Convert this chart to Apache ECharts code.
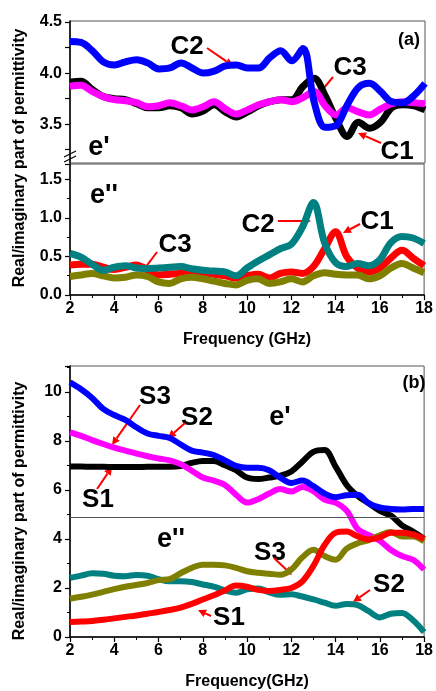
<!DOCTYPE html>
<html>
<head>
<meta charset="utf-8">
<script src="https://cdn.jsdelivr.net/npm/echarts@6/dist/echarts.min.js"></script>
<style>
  html, body { margin: 0; padding: 0; background: #fff; }
  #chart { width: 436px; height: 691px; }
</style>
</head>
<body>
<div id="chart"></div>
<script>
"use strict";

// --- data ---
const freq = [2, 2.5, 3, 3.5, 4, 4.5, 5, 5.5, 6, 6.5, 7, 7.5, 8, 8.5, 9, 9.5, 10,
  10.5, 11, 11.5, 12, 12.5, 13, 13.5, 14, 14.5, 15, 15.5, 16, 16.5, 17, 17.5, 18];

// panel (a), real part
const c1Real = [3.91, 3.92, 3.84, 3.77, 3.75, 3.74, 3.70, 3.66, 3.66, 3.68, 3.66, 3.60, 3.63, 3.69, 3.62, 3.57, 3.62,
  3.68, 3.72, 3.74, 3.74, 3.87, 3.95, 3.78, 3.55, 3.38, 3.52, 3.46, 3.52, 3.66, 3.69, 3.68, 3.64];
const c2Real = [4.31, 4.30, 4.22, 4.11, 4.08, 4.11, 4.13, 4.10, 4.04, 4.05, 4.10, 4.05, 4.00, 4.02, 4.07, 4.08, 4.05,
  4.05, 4.15, 4.22, 4.12, 4.24, 3.72, 3.47, 3.49, 3.69, 3.86, 3.90, 3.82, 3.72, 3.71, 3.78, 3.90];
const c3Real = [3.87, 3.88, 3.82, 3.77, 3.74, 3.73, 3.71, 3.67, 3.68, 3.71, 3.68, 3.64, 3.67, 3.72, 3.65, 3.60, 3.64,
  3.69, 3.72, 3.74, 3.72, 3.76, 3.82, 3.68, 3.59, 3.66, 3.62, 3.59, 3.65, 3.70, 3.72, 3.71, 3.70];

// panel (a), imaginary part
const c1Imag = [0.39, 0.40, 0.40, 0.36, 0.33, 0.36, 0.39, 0.32, 0.26, 0.27, 0.28, 0.29, 0.28, 0.27, 0.25, 0.22, 0.25,
  0.27, 0.22, 0.28, 0.30, 0.28, 0.37, 0.60, 0.82, 0.50, 0.35, 0.30, 0.35, 0.48, 0.58, 0.48, 0.38];
const c2Imag = [0.54, 0.49, 0.40, 0.32, 0.36, 0.38, 0.35, 0.34, 0.35, 0.36, 0.37, 0.34, 0.32, 0.31, 0.30, 0.25, 0.35,
  0.44, 0.52, 0.60, 0.66, 0.88, 1.20, 0.68, 0.42, 0.37, 0.41, 0.38, 0.46, 0.68, 0.76, 0.74, 0.67];
const c3Imag = [0.24, 0.26, 0.28, 0.25, 0.22, 0.23, 0.26, 0.24, 0.17, 0.15, 0.21, 0.23, 0.21, 0.18, 0.15, 0.13, 0.19,
  0.21, 0.15, 0.17, 0.21, 0.17, 0.25, 0.29, 0.27, 0.26, 0.26, 0.21, 0.25, 0.35, 0.41, 0.35, 0.29];

// panel (b), real part
const s1Real = [6.95, 6.95, 6.94, 6.94, 6.93, 6.93, 6.93, 6.94, 6.94, 6.94, 6.97, 7.10, 7.18, 7.18, 7.00, 6.80, 6.50,
  6.44, 6.50, 6.58, 6.75, 7.15, 7.55, 7.62, 6.95, 6.20, 5.75, 5.45, 5.14, 4.95, 4.55, 4.30, 4.00];
const s2Real = [10.38, 10.10, 9.75, 9.30, 9.05, 8.85, 8.55, 8.30, 8.20, 8.12, 7.85, 7.60, 7.52, 7.42, 7.20, 6.98, 6.90,
  6.90, 6.80, 6.50, 6.28, 6.38, 6.15, 5.85, 5.70, 5.78, 5.80, 5.45, 5.28, 5.22, 5.20, 5.22, 5.22];
const s3Real = [8.34, 8.20, 8.03, 7.87, 7.72, 7.60, 7.48, 7.37, 7.28, 7.20, 7.05, 6.78, 6.50, 6.38, 6.20, 5.80, 5.48,
  5.62, 5.85, 6.03, 5.93, 6.12, 5.95, 5.60, 5.48, 5.15, 4.40, 4.15, 3.92, 3.55, 3.30, 3.15, 2.75];

// panel (b), imaginary part
const s1Imag = [0.61, 0.63, 0.65, 0.70, 0.76, 0.82, 0.88, 0.95, 1.02, 1.10, 1.20, 1.35, 1.53, 1.70, 1.90, 2.10, 2.05,
  1.92, 1.88, 1.92, 2.00, 2.27, 2.90, 3.75, 4.25, 4.30, 4.10, 3.98, 4.06, 4.25, 4.25, 4.18, 4.00];
const s2Imag = [2.41, 2.50, 2.60, 2.58, 2.50, 2.48, 2.53, 2.50, 2.36, 2.27, 2.27, 2.24, 2.14, 2.05, 1.90, 1.80, 1.94,
  1.98, 1.82, 1.72, 1.74, 1.65, 1.53, 1.40, 1.27, 1.35, 1.30, 1.05, 0.80, 0.95, 0.98, 0.68, 0.20];
const s3Imag = [1.56, 1.64, 1.73, 1.84, 1.95, 2.05, 2.12, 2.20, 2.32, 2.36, 2.60, 2.82, 2.95, 2.95, 2.92, 2.82, 2.68,
  2.62, 2.58, 2.54, 2.75, 3.25, 3.56, 3.30, 3.15, 3.60, 3.82, 3.95, 4.15, 4.28, 4.10, 4.10, 3.90];

const upperTicks = [3.25, 3.5, 3.75, 4.0, 4.25, 4.5];
const upperLabels = [3.5, 4.0, 4.5];
const dividerB = 4.9;

// --- styling helpers ---
const FONT = "Arial, 'Liberation Sans', sans-serif";
const RED = "#ff0000";

const chart = echarts.init(document.getElementById("chart"), null, { renderer: "canvas" });

const pair = (ys) => freq.map((f, i) => [f, ys[i]]);

const line = (name, ys, color, xi, yi, width) => ({
  name,
  type: "line",
  xAxisIndex: xi,
  yAxisIndex: yi,
  data: pair(ys),
  showSymbol: false,
  smooth: 0.35,
  lineStyle: { color, width },
  silent: true,
  animation: false,
});

const xBase = (gi) => ({
  type: "value",
  gridIndex: gi,
  min: 2,
  max: 18,
  interval: 2,
  axisLine: { show: true, lineStyle: { color: "#000", width: 1.5 } },
  axisTick: { show: true, inside: false, length: 5, lineStyle: { color: "#000", width: 1.2 } },
  minorTick: { show: true, splitNumber: 2, length: 3, lineStyle: { color: "#000" } },
  splitLine: { show: false },
  axisLabel: { show: true, color: "#000", fontFamily: FONT, fontWeight: "bold", fontSize: 16, margin: 6 },
  nameLocation: "middle",
  nameGap: 30,
  nameTextStyle: { color: "#000", fontFamily: FONT, fontWeight: "bold", fontSize: 16 },
});

const yLabelStyle = { color: "#000", fontFamily: FONT, fontWeight: "bold", fontSize: 16, margin: 8, showMaxLabel: false };
const yLine = { show: true, lineStyle: { color: "#000", width: 1.5 } };
const yTick = { show: true, inside: false, length: 5, lineStyle: { color: "#000", width: 1.2 } };

const grids = [
  { left: 70, right: 11, top: 21, height: 142, show: true, borderColor: "#555", borderWidth: 1 },
  { left: 70, right: 11, top: 164, height: 131, show: true, borderColor: "#555", borderWidth: 1 },
  { left: 70, right: 11, top: 366, height: 272, show: true, borderColor: "#555", borderWidth: 1 },
];

const xAxes = [
  Object.assign(xBase(0), {
    axisLine: { show: false }, axisTick: { show: false }, minorTick: { show: false }, axisLabel: { show: false },
  }),
  Object.assign(xBase(1), { name: "Frequency (GHz)", nameGap: 37 }),
  Object.assign(xBase(2), { name: "Frequency(GHz)", nameGap: 37 }),
];

const yAxes = [
  {
    type: "value", gridIndex: 0, min: 3.12, max: 4.51,
    axisLine: yLine,
    axisTick: Object.assign({ customValues: upperTicks }, yTick),
    axisLabel: Object.assign({ customValues: upperLabels, formatter: (v) => v.toFixed(1) }, yLabelStyle, { showMaxLabel: true }),
    splitLine: { show: false },
  },
  {
    type: "value", gridIndex: 1, min: 0, max: 1.7, interval: 0.5,
    axisLine: yLine, axisTick: yTick,
    minorTick: { show: true, splitNumber: 2, length: 3, lineStyle: { color: "#000" } },
    axisLabel: Object.assign({ formatter: (v) => v.toFixed(1) }, yLabelStyle),
    splitLine: { show: false },
  },
  {
    type: "value", gridIndex: 2, min: 0, max: 11.05, interval: 2,
    axisLine: yLine, axisTick: yTick,
    minorTick: { show: true, splitNumber: 2, length: 3, lineStyle: { color: "#000" } },
    axisLabel: yLabelStyle,
    splitLine: { show: false },
  },
];

const series = [
  line("C1", c1Real, "#000000", 0, 0, 7),
  line("C3", c3Real, "#ff00ff", 0, 0, 7),
  line("C2", c2Real, "#0000ff", 0, 0, 7),
  line("C1''", c1Imag, "#ff0000", 1, 1, 7),
  line("C3''", c3Imag, "#808000", 1, 1, 7),
  line("C2''", c2Imag, "#008080", 1, 1, 7),
  Object.assign(line("S1", s1Real, "#000000", 2, 2, 6), {
    markLine: {
      silent: true, symbol: "none", label: { show: false },
      lineStyle: { color: "#555", width: 1, type: "solid" },
      data: [{ yAxis: dividerB }],
      animation: false,
    },
  }),
  line("S3", s3Real, "#ff00ff", 2, 2, 6),
  line("S2", s2Real, "#0000ff", 2, 2, 6),
  line("S2''", s2Imag, "#008080", 2, 2, 6),
  line("S3''", s3Imag, "#808000", 2, 2, 6),
  line("S1''", s1Imag, "#ff0000", 2, 2, 6),
];

// --- annotations (screen positions) ---
const labels = [
  { text: "C2", x: 187, y: 47, from: [207, 48], to: [233, 66] },
  { text: "C3", x: 350, y: 68, from: [333, 77], to: [313, 101] },
  { text: "C1", x: 397, y: 152, from: [381, 143], to: [358, 133] },
  { text: "C2", x: 258, y: 225, from: [278, 221], to: [311, 221] },
  { text: "C1", x: 377, y: 222, from: [360, 224], to: [343, 233] },
  { text: "C3", x: 175, y: 245, from: [157, 252], to: [142, 272] },
  { text: "S3", x: 155, y: 397, from: [140, 405], to: [112, 445] },
  { text: "S2", x: 197, y: 418, from: [185, 423], to: [168, 438] },
  { text: "S1", x: 98, y: 500, from: [97, 489], to: [112, 467] },
  { text: "S3", x: 270, y: 553, from: [274, 558], to: [292, 575] },
  { text: "S2", x: 389, y: 585, from: [370, 590], to: [353, 602] },
  { text: "S1", x: 229, y: 618, from: [211, 616], to: [198, 610] },
];
const tags = [
  { text: "(a)", x: 409, y: 40, size: 18 },
  { text: "(b)", x: 414, y: 383, size: 18 },
  { text: "e'", x: 99, y: 148, size: 27 },
  { text: "e''", x: 104, y: 196, size: 27 },
  { text: "e'", x: 280, y: 418, size: 27 },
  { text: "e''", x: 171, y: 540, size: 27 },
];

const graphic = [];

const textEl = (text, x, y, size, rotation) => ({
  type: "text",
  x, y, rotation: rotation || 0,
  silent: true,
  style: {
    text, fill: "#000", font: `bold ${size}px ${FONT}`,
    align: "center", verticalAlign: "middle",
  },
});

for (const t of tags) graphic.push(textEl(t.text, t.x, t.y, t.size));

for (const a of labels) {
  graphic.push(textEl(a.text, a.x, a.y, 26));
  const [x1, y1] = a.from;
  const [x2, y2] = a.to;
  const ang = Math.atan2(y2 - y1, x2 - x1);
  const c = Math.cos(ang), s = Math.sin(ang);
  const bx = x2 - 8 * c, by = y2 - 8 * s;
  graphic.push({
    type: "line", silent: true,
    shape: { x1, y1, x2: bx, y2: by },
    style: { stroke: RED, lineWidth: 2 },
  });
  graphic.push({
    type: "polygon", silent: true,
    shape: { points: [[x2, y2], [bx - 4 * s, by + 4 * c], [bx + 4 * s, by - 4 * c]] },
    style: { fill: RED },
  });
}

// y axis titles
graphic.push(textEl("Real/imaginary part of permittivity", 20, 158, 16, Math.PI / 2));
graphic.push(textEl("Real/imaginary part of permittivity", 20, 511, 16, Math.PI / 2));

// axis break marks
graphic.push({ type: "line", silent: true, shape: { x1: 64, y1: 157, x2: 76, y2: 151 }, style: { stroke: "#000", lineWidth: 1.2 } });
graphic.push({ type: "line", silent: true, shape: { x1: 64, y1: 162, x2: 76, y2: 156 }, style: { stroke: "#000", lineWidth: 1.2 } });

chart.setOption({
  backgroundColor: "#fff",
  animation: false,
  grid: grids,
  xAxis: xAxes,
  yAxis: yAxes,
  series,
  graphic,
});
</script>
</body>
</html>
